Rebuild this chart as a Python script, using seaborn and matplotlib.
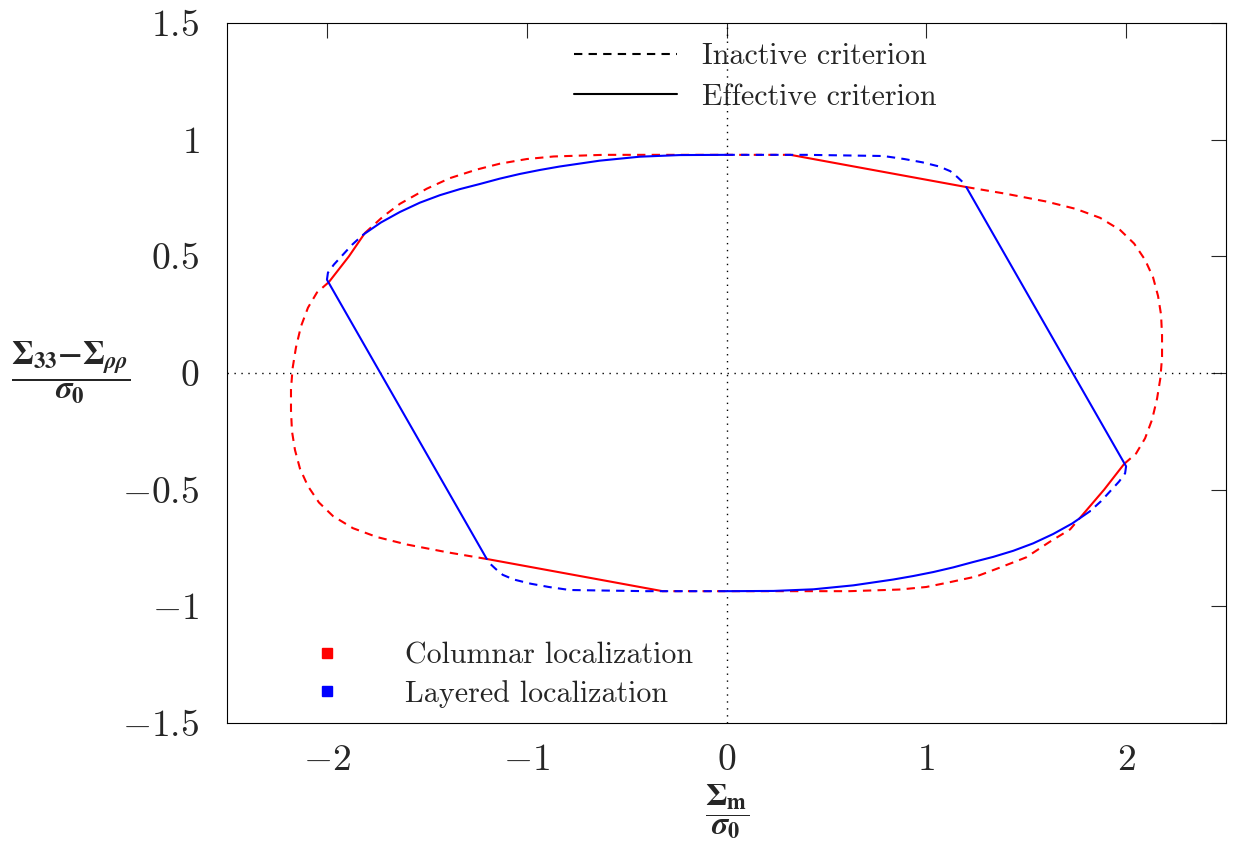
import numpy as np
import matplotlib
matplotlib.use('agg')
import matplotlib.pyplot as plt
from matplotlib.lines import Line2D
import pandas as pd
import seaborn as sns

# segments
col_a_x = [-1.81, -1.72, -1.635, -1.5, -1.385, -1.25, -1.135, -1.0, -0.865, -0.615, -0.3, 0.0, 0.32]
col_a_y = [0.60, 0.67, 0.725, 0.79, 0.835, 0.872, 0.897, 0.917, 0.928, 0.935, 0.935, 0.935, 0.935]
col_b_x = [0.32, 0.6, 0.9, 1.2]
col_b_y = [0.935, 0.891, 0.844, 0.797]
col_c_x = [1.2, 1.4, 1.6, 1.75, 1.87, 1.97, 2.04, 2.095, 2.135, 2.16, 2.175, 2.18, 2.18, 2.172, 2.155, 2.13, 2.095, 2.05, 1.99]
col_c_y = [0.797, 0.768, 0.735, 0.703, 0.665, 0.613, 0.555, 0.485, 0.41, 0.33, 0.25, 0.16, 0.07, -0.02, -0.11, -0.2, -0.28, -0.345, -0.39]
col_d_x = [1.99, 1.89, 1.79]
col_d_y = [-0.39, -0.50, -0.60]
col_e_x = [1.79, 1.72, 1.615, 1.5, 1.365, 1.25, 1.115, 1.0, 0.865, 0.615, 0.3, 0.0, -0.32]
col_e_y = [-0.60, -0.67, -0.725, -0.79, -0.835, -0.872, -0.897, -0.917, -0.928, -0.935, -0.935, -0.935, -0.935]
col_f_x = [-0.32, -0.6, -0.9, -1.2]
col_f_y = [-0.935, -0.891, -0.844, -0.797]
col_g_x = [-1.2, -1.4, -1.6, -1.75, -1.87, -1.97, -2.04, -2.095, -2.135, -2.16, -2.175, -2.18, -2.18, -2.172, -2.155, -2.13, -2.095, -2.05, -1.99]
col_g_y = [-0.797, -0.768, -0.735, -0.703, -0.665, -0.613, -0.555, -0.485, -0.41, -0.33, -0.25, -0.16, -0.07, 0.02, 0.11, 0.2, 0.28, 0.345, 0.39]
col_h_x = [-1.99, -1.89, -1.81]
col_h_y = [0.39, 0.50, 0.60]

lay_i_x = [-1.82, -1.73, -1.635, -1.535, -1.435, -1.335, -1.235, -1.135, -1.035, -0.935, -0.835, -0.635, -0.435, -0.235, 0.0]
lay_i_y = [0.592, 0.645, 0.69, 0.73, 0.762, 0.788, 0.81, 0.833, 0.853, 0.87, 0.885, 0.91, 0.927, 0.934, 0.935]
lay_j_x = [0.0, 0.4, 0.785, 0.89, 0.98, 1.065, 1.12, 1.155, 1.18, 1.2]
lay_j_y = [0.935, 0.935, 0.93, 0.917, 0.903, 0.885, 0.865, 0.84, 0.82, 0.797]
lay_k_x = [1.2, 2.0]
lay_k_y = [0.797, -0.40]
lay_l_x = [2.0, 1.995, 1.965, 1.935, 1.875, 1.82]
lay_l_y = [-0.40, -0.43, -0.465, -0.493, -0.549, -0.592]
lay_m_x = [1.82, 1.73, 1.635, 1.535, 1.435, 1.335, 1.235, 1.135, 1.035, 0.935, 0.835, 0.635, 0.435, 0.235, 0.0]
lay_m_y = [-0.592, -0.645, -0.69, -0.73, -0.762, -0.788, -0.81, -0.833, -0.853, -0.87, -0.885, -0.91, -0.927, -0.934, -0.935]
lay_n_x = [0.0, -0.4, -0.785, -0.89, -0.98, -1.065, -1.12, -1.155, -1.18, -1.2]
lay_n_y = [-0.935, -0.935, -0.93, -0.917, -0.903, -0.885, -0.865, -0.84, -0.82, -0.797]
lay_o_x = [-1.2, -2.0]
lay_o_y = [-0.797, 0.40]
lay_p_x = [-2.0, -1.995, -1.965, -1.935, -1.875, -1.82]
lay_p_y = [0.40, 0.43, 0.465, 0.493, 0.549, 0.592]

COL = "Columnar localization"
LAY = "Layered localization"
INA = "Inactive criterion"
EFF = "Effective criterion"

segments = [
    (COL, INA, col_a_x, col_a_y), (COL, EFF, col_b_x, col_b_y),
    (COL, INA, col_c_x, col_c_y), (COL, EFF, col_d_x, col_d_y),
    (COL, INA, col_e_x, col_e_y), (COL, EFF, col_f_x, col_f_y),
    (COL, INA, col_g_x, col_g_y), (COL, EFF, col_h_x, col_h_y),
    (LAY, EFF, lay_i_x, lay_i_y), (LAY, INA, lay_j_x, lay_j_y),
    (LAY, EFF, lay_k_x, lay_k_y), (LAY, INA, lay_l_x, lay_l_y),
    (LAY, EFF, lay_m_x, lay_m_y), (LAY, INA, lay_n_x, lay_n_y),
    (LAY, EFF, lay_o_x, lay_o_y), (LAY, INA, lay_p_x, lay_p_y),
]

xticks = [-2, -1, 0, 1, 2]
xticklabels = [r"$-2$", r"$-1$", r"$0$", r"$1$", r"$2$"]
yticks = [-1.5, -1, -0.5, 0, 0.5, 1, 1.5]
yticklabels = [r"$-1.5$", r"$-1$", r"$-0.5$", r"$0$", r"$0.5$", r"$1$", r"$1.5$"]

rows = []
for k, (loc, crit, xs, ys) in enumerate(segments):
    for i, (x, y) in enumerate(zip(xs, ys)):
        rows.append({"seg": k, "order": i, "x": x, "y": y, "loc": loc, "crit": crit})
df = pd.DataFrame(rows)

sns.set_style("white")
plt.rcParams['font.family'] = ['cmr10', 'DejaVu Serif']
plt.rcParams['mathtext.fontset'] = 'cm'
plt.rcParams['axes.unicode_minus'] = False

fig = plt.figure(figsize=(12.34, 8.49), dpi=100)
ax = fig.add_axes([0.184, 0.1484, 0.8095, 0.8245])

ax.axhline(0, color='black', lw=1, dashes=(1, 4))
ax.axvline(0, color='black', lw=1, dashes=(1, 4))

sns.lineplot(data=df, x="x", y="y", hue="loc", style="crit", units="seg",
             estimator=None, sort=False, ax=ax, legend=False,
             palette={COL: "red", LAY: "blue"},
             dashes={INA: (4, 3), EFF: ""}, lw=1.5)

ax.set_xlim(-2.5, 2.5)
ax.set_ylim(-1.5, 1.5)
ax.set_xticks(xticks)
ax.set_xticklabels(xticklabels)
ax.set_yticks(yticks)
ax.set_yticklabels(yticklabels)
ax.tick_params(direction='in', length=11, width=0.8, top=True, right=True,
               labelsize=27)
ax.tick_params(axis='y', pad=20)
ax.tick_params(axis='x', pad=15)
for s in ax.spines.values():
    s.set_linewidth(0.8)
    s.set_color('black')

xlab = (r"$\dfrac{\boldsymbol{\Sigma}_{\mathbf{m}}}"
        r"{\boldsymbol{\sigma}_{\mathbf{0}}}$")
ylab = (r"$\dfrac{\boldsymbol{\Sigma}_{\mathbf{33}}\boldsymbol{-}"
        r"\boldsymbol{\Sigma}_{\boldsymbol{\rho\rho}}}"
        r"{\boldsymbol{\sigma}_{\mathbf{0}}}$")
ax.set_xlabel(xlab, fontsize=23, va='center', math_fontfamily='stix')
ax.xaxis.set_label_coords(0.5, -0.127)
ax.set_ylabel(ylab, fontsize=23.5, rotation=0, va='center', ha='center',
              math_fontfamily='stix')
ax.yaxis.set_label_coords(-0.156, 0.5)

style_handles = [Line2D([], [], color='black', lw=1.5, dashes=(4, 3)),
                 Line2D([], [], color='black', lw=1.5)]
leg1 = ax.legend(style_handles, [INA, EFF], loc='upper left',
                 bbox_to_anchor=(0.347, 0.972), frameon=False, fontsize=21.6,
                 handlelength=3.45, handletextpad=0.83, labelspacing=0.44,
                 borderpad=0, borderaxespad=0)
ax.add_artist(leg1)

color_handles = [Line2D([], [], color='red', marker='s', ls='none', ms=7),
                 Line2D([], [], color='blue', marker='s', ls='none', ms=7)]
ax.legend(color_handles, [COL, LAY], loc='lower left',
          bbox_to_anchor=(0.070, 0.022), frameon=False, fontsize=21.6,
          handlelength=2, handletextpad=1.6, labelspacing=0.35,
          borderpad=0, borderaxespad=0)

fig.savefig("out.png", dpi=100)
